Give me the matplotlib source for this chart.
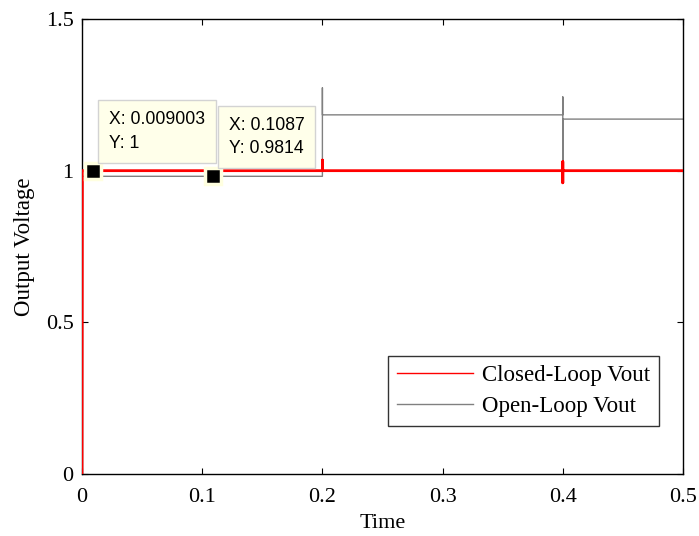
import matplotlib
matplotlib.use("Agg")
import matplotlib.pyplot as plt
from matplotlib.lines import Line2D

# Data
closed_t = [0, 0.0003, 0.2, 0.2, 0.2, 0.4, 0.4, 0.4, 0.4, 0.5]
closed_v = [0, 1.0, 1.0, 1.035, 1.0, 1.0, 1.03, 0.96, 1.0, 1.0]
open_t = [0, 0.0003, 0.2, 0.2, 0.2, 0.4, 0.4, 0.4, 0.4, 0.5]
open_v = [0, 0.9814, 0.9814, 1.273, 1.184, 1.184, 1.243, 1.0, 1.17, 1.17]
tips = [(0.009003, 1.0, "X: 0.009003\nY: 1"), (0.1087, 0.9814, "X: 0.1087\nY: 0.9814")]
xticks = [0, 0.1, 0.2, 0.3, 0.4, 0.5]
yticks = [0, 0.5, 1, 1.5]

plt.rcParams['font.family'] = ['Liberation Serif', 'DejaVu Serif']
fig = plt.figure(figsize=(6.99, 5.36), dpi=100)
ax = fig.add_axes([82/699, 1-474/536, (683-82)/699, (474-19)/536])

ax.plot(open_t, open_v, color='#808080', lw=1.0, zorder=2)
ax.plot(closed_t, closed_v, color='red', lw=2.0, zorder=3)
h1 = Line2D([], [], color='red', lw=1.0)
h2 = Line2D([], [], color='#808080', lw=1.0)
leg = ax.legend([h1, h2], ['Closed-Loop Vout', 'Open-Loop Vout'], loc='lower right',
                bbox_to_anchor=(0.96, 0.105),
                fontsize=16.5, frameon=True, fancybox=False, edgecolor='black',
                handlelength=3.3, handletextpad=0.4, borderpad=0.4, labelspacing=0.42,
                borderaxespad=0)
leg.get_frame().set_linewidth(1.0)

for x, y, txt in tips:
    ax.plot([x], [y], marker='s', ms=11.5, mfc='black', mec='#FFFFE0', mew=2.5, zorder=5)
    ax.annotate(txt, xy=(x, y), xytext=(16, 19), textcoords='offset pixels',
                ha='left', va='bottom', fontsize=12.7, family=['Liberation Sans', 'DejaVu Sans'],
                linespacing=1.5,
                bbox=dict(boxstyle='square,pad=0.62', fc='#FFFFEA', ec='#D3D3D3', lw=1), zorder=6)

ax.set_xlim(0, 0.5)
ax.set_ylim(0, 1.5)
ax.set_xticks(xticks)
ax.set_xticklabels(['0', '0.1', '0.2', '0.3', '0.4', '0.5'])
ax.set_yticks(yticks)
ax.set_yticklabels(['0', '0.5', '1', '1.5'])
ax.tick_params(direction='in', top=True, right=True, labelsize=16, length=4)
ax.tick_params(axis='x', pad=10)
ax.tick_params(axis='y', pad=6)
ax.set_xlabel('Time', fontsize=16, labelpad=5)
ax.set_ylabel('Output Voltage', fontsize=16.5, labelpad=8)
for s in ax.spines.values():
    s.set_linewidth(1.0)

fig.savefig('out.png', dpi=100)
